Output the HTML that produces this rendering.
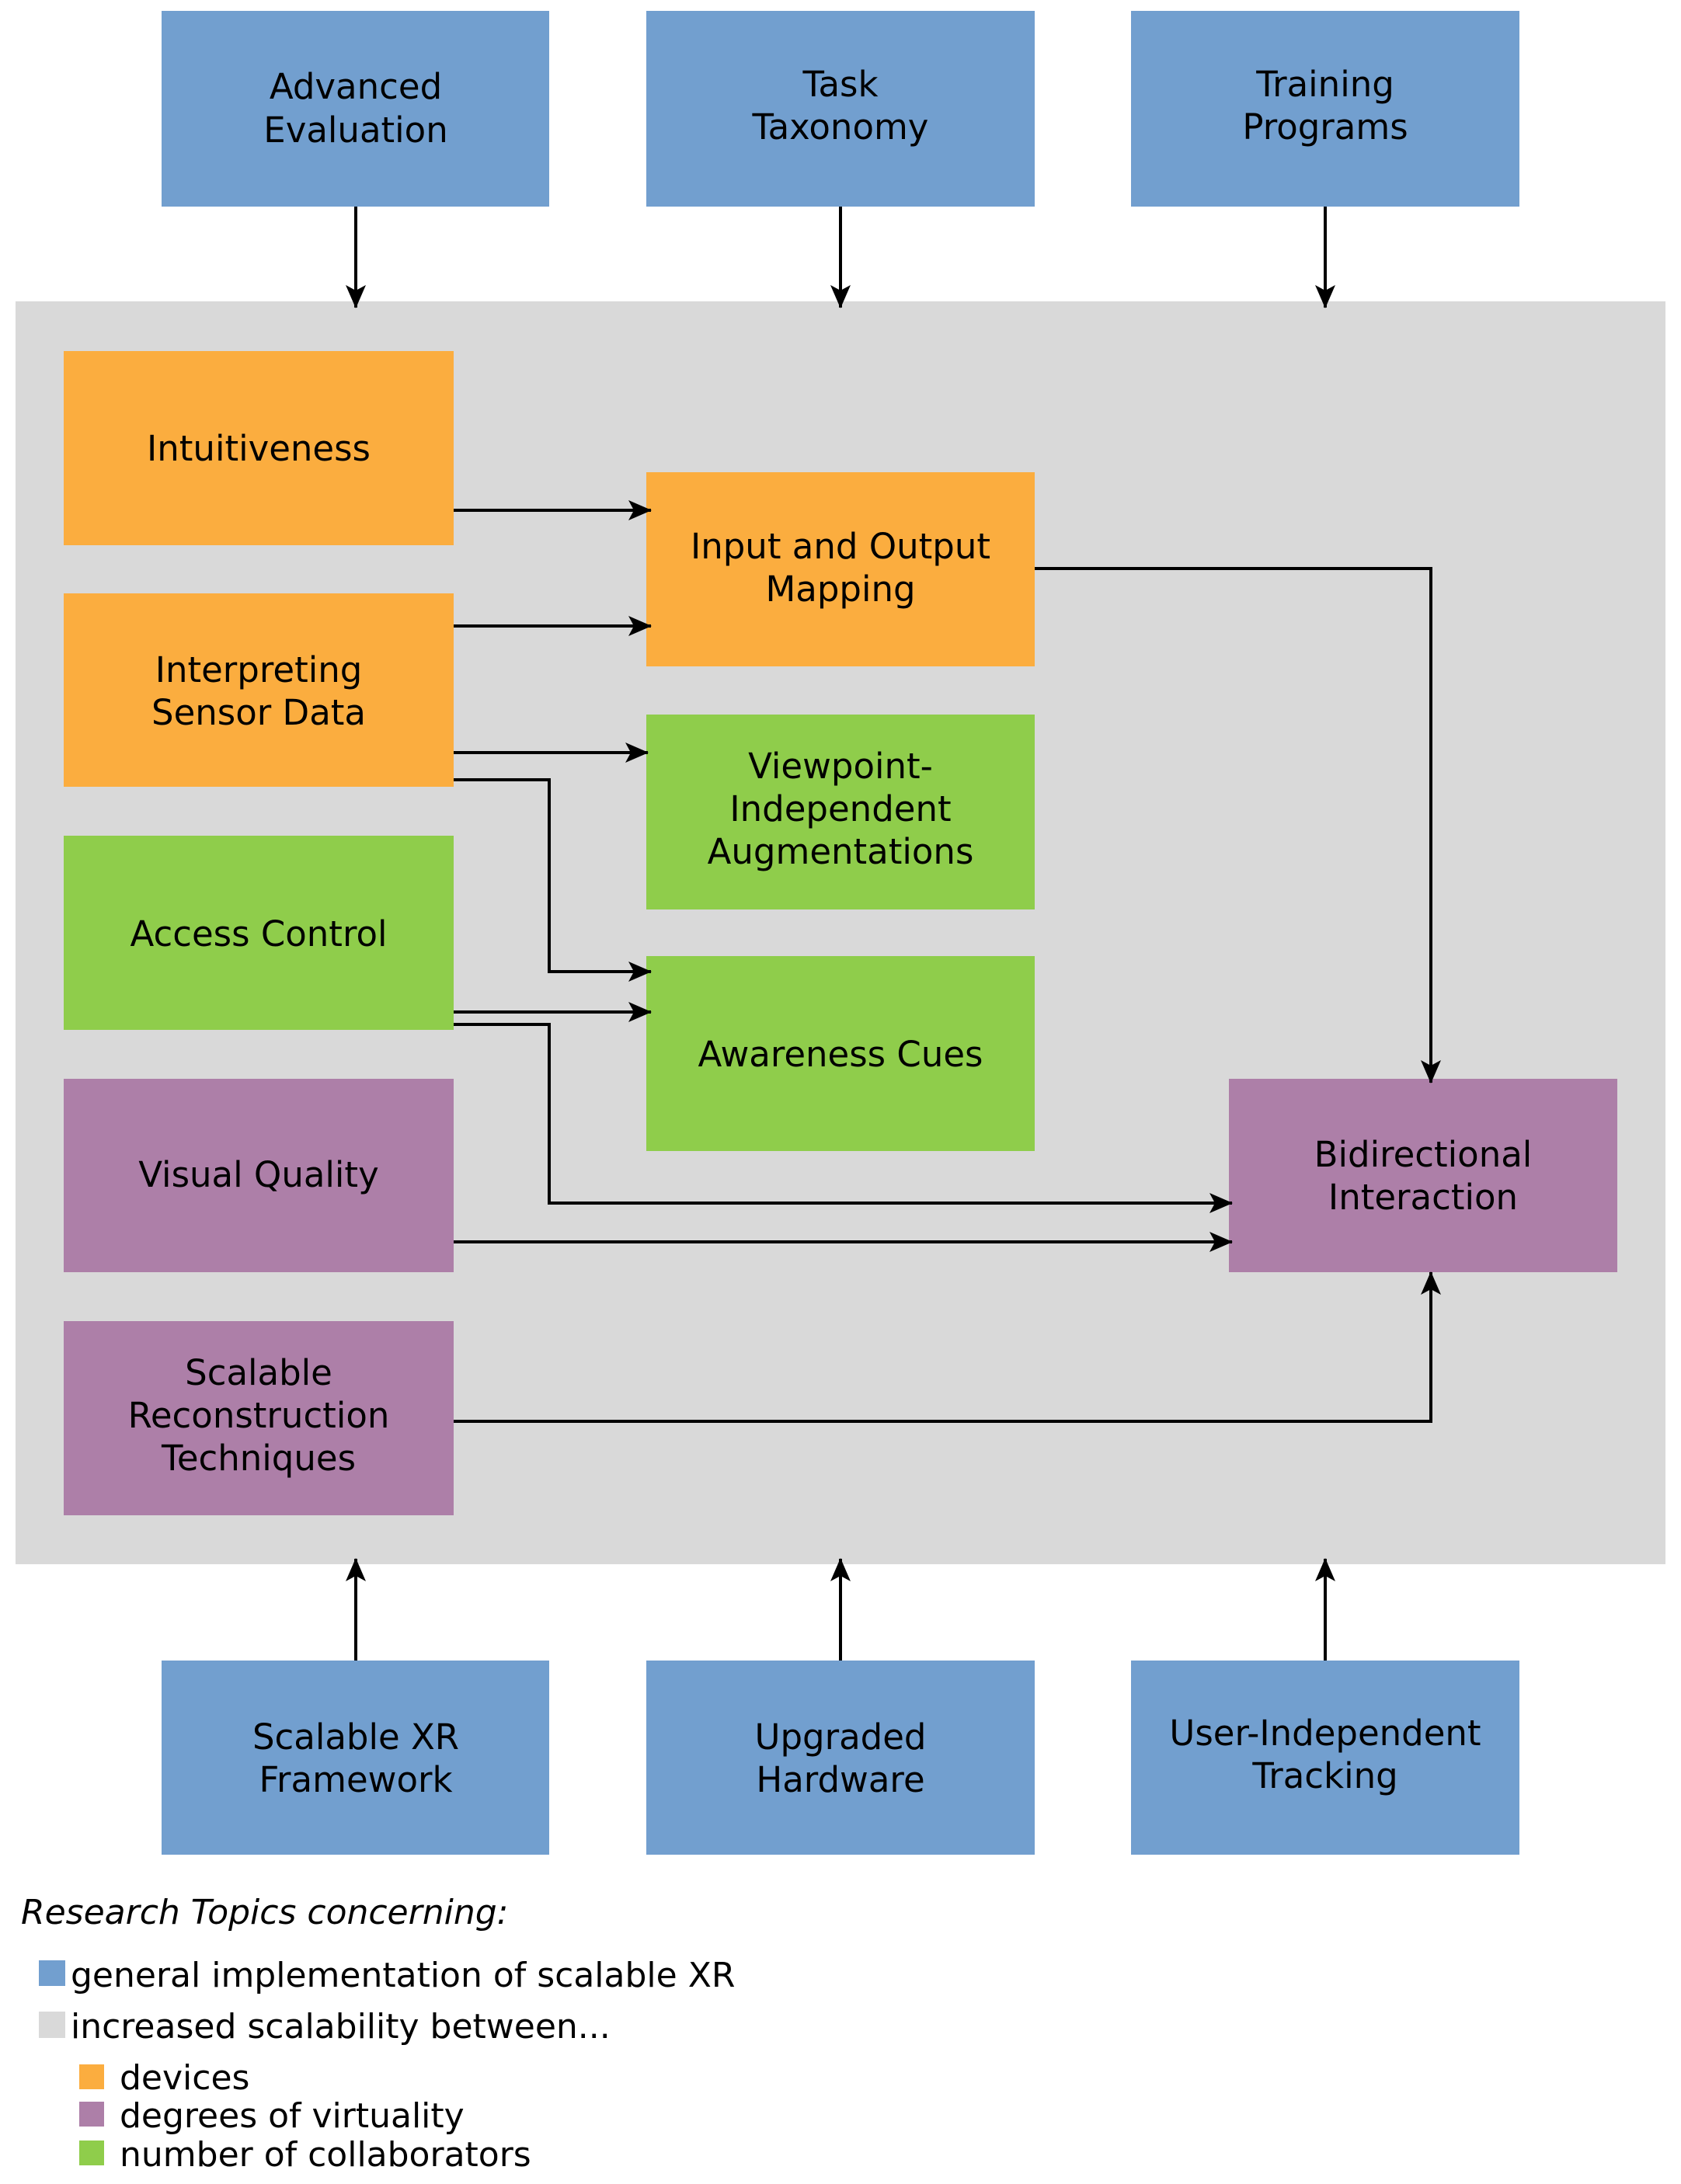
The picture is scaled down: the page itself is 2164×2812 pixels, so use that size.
<!DOCTYPE html>
<html><head><meta charset="utf-8"><style>
html,body{margin:0;padding:0;background:#fff}
svg{display:block}
text{font-family:"DejaVu Sans","Liberation Sans",sans-serif;font-size:45px;fill:#000}
.l{font-size:44px}
</style></head><body>
<svg width="2164" height="2812" viewBox="0 0 2164 2812" xmlns="http://www.w3.org/2000/svg">
<defs>
<marker id="h" viewBox="0 0 30 26" refX="29" refY="13" markerWidth="30" markerHeight="26" markerUnits="userSpaceOnUse" orient="auto">
<path d="M0,0 L30,13 L0,26 L7,13 Z" fill="#000"/>
</marker>
</defs>
<rect x="20" y="388" width="2124" height="1626" fill="#d9d9d9"/>
<g fill="#729fcf">
<rect x="208" y="14" width="499" height="252"/>
<rect x="832" y="14" width="500" height="252"/>
<rect x="1456" y="14" width="500" height="252"/>
<rect x="208" y="2138" width="499" height="250"/>
<rect x="832" y="2138" width="500" height="250"/>
<rect x="1456" y="2138" width="500" height="250"/>
</g>
<g fill="#fbad3f">
<rect x="82" y="452" width="502" height="250"/>
<rect x="82" y="764" width="502" height="249"/>
<rect x="832" y="608" width="500" height="250"/>
</g>
<g fill="#8fcd4b">
<rect x="82" y="1076" width="502" height="250"/>
<rect x="832" y="920" width="500" height="251"/>
<rect x="832" y="1231" width="500" height="251"/>
</g>
<g fill="#ad7fa8">
<rect x="82" y="1389" width="502" height="249"/>
<rect x="82" y="1701" width="502" height="250"/>
<rect x="1582" y="1389" width="500" height="249"/>
</g>
<g stroke="#000" stroke-width="4" fill="none" marker-end="url(#h)">
<line x1="458" y1="266" x2="458" y2="396"/>
<line x1="1082" y1="266" x2="1082" y2="396"/>
<line x1="1706" y1="266" x2="1706" y2="396"/>
<line x1="458" y1="2138" x2="458" y2="2007"/>
<line x1="1082" y1="2138" x2="1082" y2="2007"/>
<line x1="1706" y1="2138" x2="1706" y2="2007"/>
<line x1="584" y1="657" x2="838" y2="657"/>
<line x1="584" y1="806" x2="838" y2="806"/>
<line x1="584" y1="969" x2="834" y2="969"/>
<polyline points="584,1004 707,1004 707,1251 838,1251"/>
<line x1="584" y1="1303" x2="838" y2="1303"/>
<polyline points="584,1319 707,1319 707,1549 1586,1549"/>
<line x1="584" y1="1599" x2="1586" y2="1599"/>
<polyline points="584,1830 1842,1830 1842,1638"/>
<polyline points="1332,732 1842,732 1842,1394"/>
</g>
<g text-anchor="middle">
<text x="458" y="127">Advanced</text><text x="458" y="183">Evaluation</text>
<text x="1082" y="124">Task</text><text x="1082" y="179">Taxonomy</text>
<text x="1706" y="124">Training</text><text x="1706" y="179">Programs</text>
<text x="333" y="593">Intuitiveness</text>
<text x="333" y="878">Interpreting</text><text x="333" y="933">Sensor Data</text>
<text x="333" y="1218">Access Control</text>
<text x="333" y="1528">Visual Quality</text>
<text x="333" y="1783">Scalable</text><text x="333" y="1838">Reconstruction</text><text x="333" y="1893">Techniques</text>
<text x="1082" y="719">Input and Output</text><text x="1082" y="774">Mapping</text>
<text x="1082" y="1002">Viewpoint-</text><text x="1082" y="1057">Independent</text><text x="1082" y="1112">Augmentations</text>
<text x="1082" y="1373">Awareness Cues</text>
<text x="1832" y="1502">Bidirectional</text><text x="1832" y="1557">Interaction</text>
<text x="458" y="2252">Scalable XR</text><text x="458" y="2307">Framework</text>
<text x="1082" y="2252">Upgraded</text><text x="1082" y="2307">Hardware</text>
<text x="1706" y="2247">User-Independent</text><text x="1706" y="2302">Tracking</text>
</g>
<text class="l" x="27" y="2477" font-style="italic">Research Topics concerning:</text>
<rect x="50" y="2524" width="34" height="33" fill="#729fcf"/>
<text class="l" x="91" y="2558">general implementation of scalable XR</text>
<rect x="50" y="2590" width="34" height="34" fill="#d9d9d9"/>
<text class="l" x="91" y="2624">increased scalability between...</text>
<rect x="102" y="2658" width="32" height="32" fill="#fbad3f"/>
<text class="l" x="154" y="2690">devices</text>
<rect x="102" y="2706" width="32" height="32" fill="#ad7fa8"/>
<text class="l" x="154" y="2739">degrees of virtuality</text>
<rect x="102" y="2756" width="32" height="32" fill="#8fcd4b"/>
<text class="l" x="154" y="2789">number of collaborators</text>
</svg>
</body></html>
